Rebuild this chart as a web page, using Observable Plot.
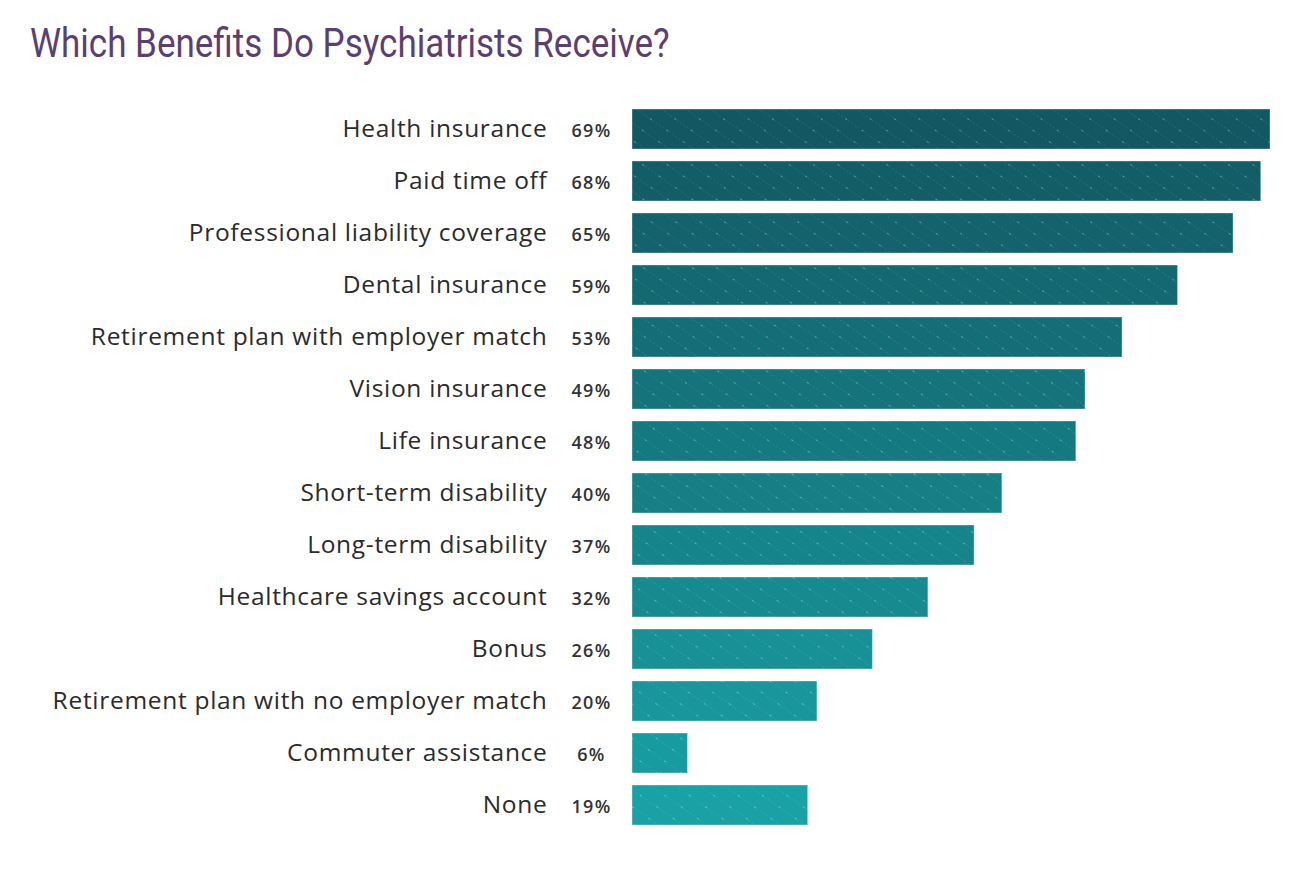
<!DOCTYPE html>
<html>
<head>
<meta charset="utf-8">
<script src="https://cdn.jsdelivr.net/npm/d3@7"></script>
<script src="https://cdn.jsdelivr.net/npm/@observablehq/plot@0.6"></script>
<style>
  html, body { margin: 0; padding: 0; background: #fff; }
  #title { height: 90px; position: relative; }
  #title span {
    position: absolute; left: 30px; top: 20px;
    font-family: Roboto, sans-serif; font-size: 40px; color: #5b3f74;
    transform: scaleX(0.875); transform-origin: left top; white-space: nowrap;
  }
  .cat-label text { letter-spacing: 0.7px; }
  .pct-label text { letter-spacing: 1.3px; }
</style>
</head>
<body>
<div id="title"><span>Which Benefits Do Psychiatrists Receive?</span></div>
<div id="chart"></div>
<script>
const categories = [
  "Health insurance", "Paid time off", "Professional liability coverage", "Dental insurance",
  "Retirement plan with employer match", "Vision insurance", "Life insurance",
  "Short-term disability", "Long-term disability", "Healthcare savings account",
  "Bonus", "Retirement plan with no employer match", "Commuter assistance", "None"
];
const values = [69, 68, 65, 59, 53, 49, 48, 40, 37, 32, 26, 20, 6, 19];

const data = categories.map((c, i) => ({category: c, value: values[i], idx: i}));
const colorAt = d3.interpolateRgb("#125762", "#19a1a5");
const n = categories.length;

const chart = Plot.plot({
  width: 1290,
  height: 788,
  marginLeft: 632,
  marginRight: 20,
  marginTop: 13,
  marginBottom: 47,
  x: {domain: [0, 69], axis: null},
  y: {domain: categories, paddingInner: 0.2308, paddingOuter: 0.1154, axis: null},
  style: {fontFamily: "'Open Sans', sans-serif"},
  marks: [
    Plot.barX(data, {y: "category", x: "value", fill: d => colorAt(d.idx / (n - 1)), stroke: "#ffffff", strokeOpacity: 0.35, strokeWidth: 1, inset: 0}),
    Plot.barX(data, {y: "category", x: "value", fill: "url(#diagpat)", inset: 0}),
    Plot.text(data, {y: "category", x: 0, text: "category", textAnchor: "end", dx: -85,
      fontSize: 24.5, fill: "#2b2b2b", className: "cat-label"}),
    Plot.text(data, {y: "category", x: 0, text: d => d.value + "%", textAnchor: "middle", dx: -41, dy: 2,
      fontSize: 18, fontWeight: 600, fill: "#333333", className: "pct-label"})
  ]
});

const svgNS = "http://www.w3.org/2000/svg";
const defs = document.createElementNS(svgNS, "defs");
defs.innerHTML = `
  <pattern id="diagpat" patternUnits="userSpaceOnUse" width="20" height="14" patternTransform="rotate(35)">
    <line x1="0" y1="0" x2="20" y2="0" stroke="#ffffff" stroke-opacity="0.22" stroke-width="1" stroke-dasharray="1.5 2.5"/>
    <circle cx="10" cy="0" r="0.9" fill="#ffffff" fill-opacity="0.5"/>
  </pattern>`;
chart.insertBefore(defs, chart.firstChild);
document.getElementById("chart").appendChild(chart);
</script>
</body>
</html>
